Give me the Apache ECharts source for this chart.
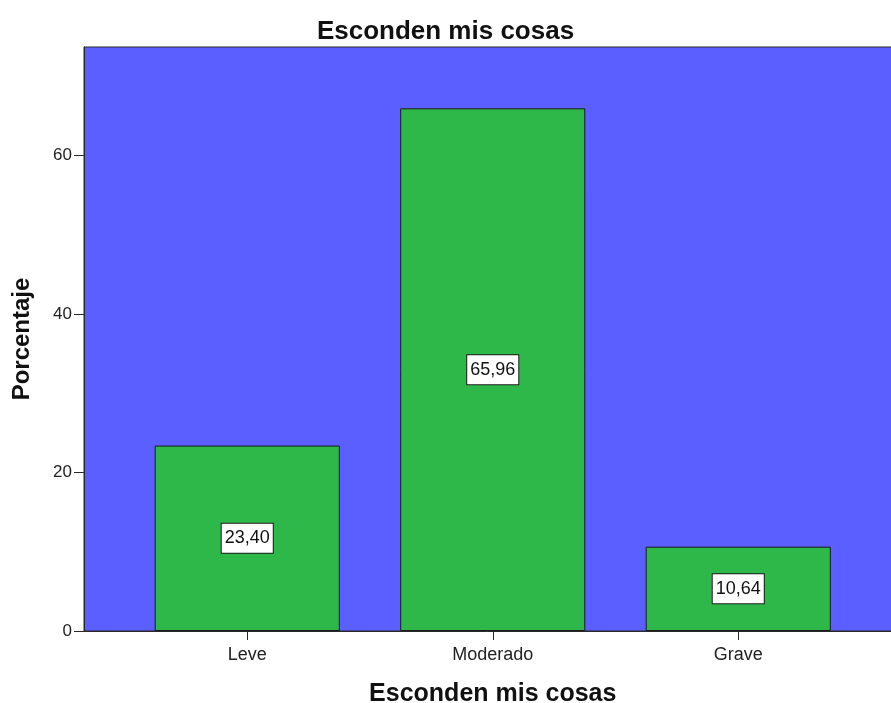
<!DOCTYPE html>
<html>
<head>
<meta charset="utf-8">
<script src="https://cdn.jsdelivr.net/npm/echarts@6/dist/echarts.min.js"></script>
<style>
html,body{margin:0;padding:0;background:#fff;}
#chart{width:891px;height:703px;}
</style>
</head>
<body>
<div id="chart"></div>
<script>
const chartTitle = 'Esconden mis cosas';
const xAxisTitle = 'Esconden mis cosas';
const yAxisTitle = 'Porcentaje';
const categories = ['Leve', 'Moderado', 'Grave'];
const percentages = [23.40, 65.96, 10.64];
const yTicks = [0, 20, 40, 60];
const yMax = 73.7;

const FONT = '"Liberation Sans", Arial, sans-serif';
const chart = echarts.init(document.getElementById('chart'), null, {renderer: 'canvas'});

chart.setOption({
  animation: false,
  textStyle: {fontFamily: FONT},
  title: {
    text: chartTitle,
    left: 'center',
    top: 14,
    textStyle: {fontFamily: FONT, fontSize: 26, fontWeight: 'bold', color: '#111'}
  },
  grid: [
    {left: 84, right: -2, top: 47, bottom: 72, show: true, backgroundColor: '#5c5fff',
     borderColor: '#2a2a2a', borderWidth: 1, containLabel: false, outerBoundsMode: 'none'},
    {left: 124.5, right: 30, top: 47, bottom: 72, containLabel: false, outerBoundsMode: 'none'}
  ],
  xAxis: [
    {type: 'value', gridIndex: 0, min: 0, max: 1, show: true,
     axisLine: {show: true, lineStyle: {color: '#2a2a2a', width: 1}},
     axisTick: {show: false}, axisLabel: {show: false}, splitLine: {show: false}},
    {type: 'category', gridIndex: 1, data: categories,
     axisLine: {show: false},
     axisTick: {show: true, alignWithLabel: true, length: 9, lineStyle: {color: '#2a2a2a'}},
     axisLabel: {margin: 15, fontSize: 18, color: '#222', fontFamily: FONT},
     name: xAxisTitle, nameLocation: 'middle', nameGap: 51,
     nameTextStyle: {fontFamily: FONT, fontSize: 25, fontWeight: 'bold', color: '#111'}}
  ],
  yAxis: [
    {type: 'value', gridIndex: 0, min: 0, max: yMax,
     axisLine: {show: true, lineStyle: {color: '#2a2a2a', width: 1}},
     axisTick: {show: true, length: 10, customValues: yTicks, lineStyle: {color: '#2a2a2a'}},
     axisLabel: {margin: 12, fontSize: 17, color: '#222', fontFamily: FONT, customValues: yTicks},
     splitLine: {show: false},
     name: yAxisTitle, nameLocation: 'middle', nameGap: 50,
     nameTextStyle: {fontFamily: FONT, fontSize: 24, fontWeight: 'bold', color: '#111'}},
    {type: 'value', gridIndex: 1, min: 0, max: yMax, show: false, splitLine: {show: false}}
  ],
  series: [{
    type: 'bar',
    xAxisIndex: 1,
    yAxisIndex: 1,
    data: percentages,
    barWidth: '75.4%',
    itemStyle: {color: '#2eb84a', borderColor: '#1a1a1a', borderWidth: 1},
    label: {
      show: true,
      position: 'inside',
      formatter: p => p.value.toFixed(2).replace('.', ','),
      fontFamily: FONT,
      fontSize: 18,
      color: '#111',
      backgroundColor: '#fff',
      borderColor: '#1a1a1a',
      borderWidth: 1,
      padding: [6, 3, 5, 3]
    }
  }]
});
</script>
</body>
</html>
